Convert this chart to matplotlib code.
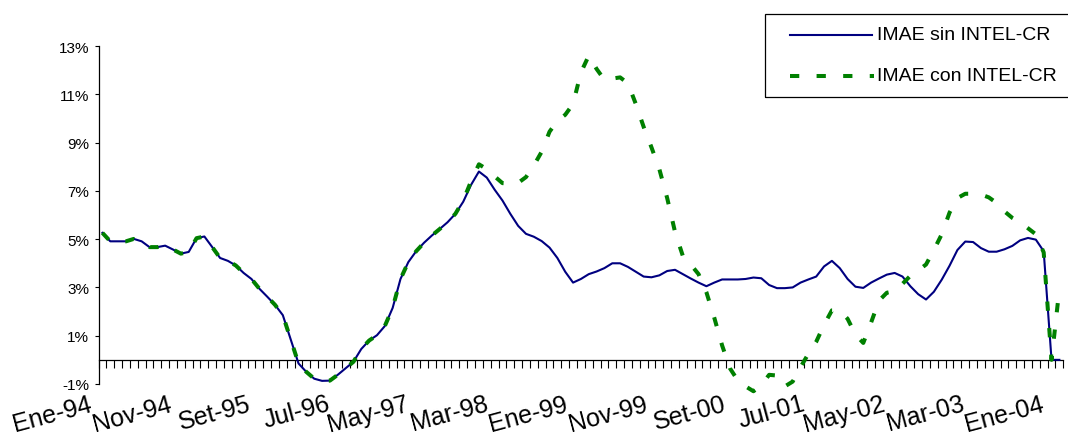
import numpy as np
import matplotlib
matplotlib.use("Agg")
import matplotlib.pyplot as plt
from matplotlib.lines import Line2D
from matplotlib.patches import Rectangle

plt.rcParams['font.family'] = ['Liberation Sans', 'DejaVu Sans']

# ---------------- data ----------------
tick_labels = ["Ene-94", "Nov-94", "Set-95", "Jul-96", "May-97", "Mar-98", "Ene-99",
               "Nov-99", "Set-00", "Jul-01", "May-02", "Mar-03", "Ene-04"]
label_step = 10  # months between labels

series_names = ["IMAE sin INTEL-CR", "IMAE con INTEL-CR"]

sin_intel = [
    5.26, 4.91, 4.91, 4.91, 5.01, 4.91, 4.67, 4.67, 4.73, 4.57,
    4.40, 4.47, 5.04, 5.11, 4.67, 4.22, 4.10, 3.91, 3.60, 3.35,
    2.95, 2.62, 2.28, 1.85, 0.85, -0.15, -0.50, -0.78, -0.87, -0.86,
    -0.62, -0.35, -0.08, 0.45, 0.80, 1.02, 1.40, 2.15, 3.35, 4.05,
    4.50, 4.85, 5.15, 5.42, 5.70, 6.05, 6.55, 7.25, 7.80, 7.55,
    7.05, 6.60, 6.05, 5.55, 5.22, 5.10, 4.92, 4.65, 4.22, 3.65,
    3.20, 3.35, 3.55, 3.66, 3.80, 4.00, 4.00, 3.85, 3.65, 3.45,
    3.42, 3.50, 3.68, 3.73, 3.55, 3.37, 3.20, 3.05, 3.20, 3.33,
    3.33, 3.33, 3.35, 3.41, 3.38, 3.10, 2.97, 2.97, 3.00, 3.20,
    3.33, 3.45, 3.87, 4.10, 3.80, 3.35, 3.03, 2.98, 3.20, 3.37,
    3.53, 3.60, 3.45, 3.05, 2.72, 2.50, 2.82, 3.32, 3.90, 4.55,
    4.90, 4.88, 4.63, 4.48, 4.48, 4.58, 4.72, 4.95, 5.05, 4.98,
    4.50, 0.00, 0.00,
]

con_intel = [
    5.26, 4.91, 4.91, 4.91, 5.01, 4.91, 4.67, 4.67, 4.73, 4.57,
    4.40, 4.47, 5.04, 5.11, 4.67, 4.22, 4.10, 3.91, 3.60, 3.35,
    2.95, 2.62, 2.28, 1.85, 0.85, -0.15, -0.50, -0.78, -0.87, -0.86,
    -0.62, -0.35, -0.08, 0.45, 0.80, 1.02, 1.40, 2.15, 3.35, 4.05,
    4.50, 4.85, 5.15, 5.42, 5.70, 6.05, 6.60, 7.40, 8.10, 7.90,
    7.60, 7.32, 7.30, 7.33, 7.57, 8.05, 8.62, 9.45, 9.90, 10.15,
    10.60, 11.90, 12.60, 12.05, 11.60, 11.65, 11.70, 11.45, 10.60, 9.65,
    8.80, 7.90, 6.70, 5.30, 4.30, 3.95, 3.55, 2.80, 1.75, 0.60,
    -0.35, -0.85, -1.10, -1.30, -1.05, -0.62, -0.65, -1.10, -0.90, -0.30,
    0.25, 0.75, 1.45, 2.05, 2.05, 1.70, 1.05, 0.70, 1.55, 2.45,
    2.78, 2.85, 3.15, 3.48, 3.70, 3.95, 4.55, 5.20, 6.10, 6.70,
    6.88, 6.88, 6.85, 6.73, 6.50, 6.15, 5.88, 5.70, 5.45, 5.20,
    4.45, 0.00, 2.95,
]

yticks = [-1, 1, 3, 5, 7, 9, 11, 13]

# ---------------- figure ----------------
W, H = 1068, 439
fig = plt.figure(figsize=(W / 100, H / 100), dpi=100)
L, R, T, B = 98.5, 1063.3, 47.0, 385.0
ax = fig.add_axes([L / W, 1 - B / H, (R - L) / W, (B - T) / H])

n = len(sin_intel)
x = np.arange(n)
ax.plot(x, sin_intel, color='#000080', lw=1.5, clip_on=False, zorder=3,
        solid_joinstyle='round')
ax.plot(x, con_intel, color='#008000', lw=2.9, ls=(0, (2.3, 4.3)),
        dash_capstyle='butt', clip_on=False, zorder=4)

ax.set_xlim(-0.5, n - 0.5)
ax.set_ylim(-1, 13)

for s in ('top', 'right'):
    ax.spines[s].set_visible(False)
ax.spines['bottom'].set_position(('data', 0))
ax.spines['bottom'].set_linewidth(0.9)
ax.spines['left'].set_linewidth(0.9)

ax.set_yticks(yticks)
ax.set_yticklabels([f"{v}%" for v in yticks])
ax.tick_params(axis='y', direction='out', length=3.2, width=0.8, pad=3.4,
               labelsize=11, colors='black')

ax.set_xticks([])
ax.set_xticks(np.arange(n + 1) - 0.5, minor=True)
ax.tick_params(axis='x', which='minor', direction='out', length=5.8, width=0.8,
               labelbottom=False)

xt = ax.get_xaxis_transform()
for k, lab in enumerate(tick_labels):
    pos = k * label_step
    ax.text(pos - 1.8 + k * 0.11, -0.022, lab, transform=xt, ha='right', va='top',
            rotation=15, rotation_mode='anchor', fontsize=18, clip_on=False)

# ---------------- legend ----------------
def fx(px):
    return px / W

def fy(py):
    return 1 - py / H

fig.add_artist(Rectangle((fx(765), fy(98.3)), fx(1080) - fx(765), fy(15) - fy(98.3),
                         transform=fig.transFigure, fill=False, edgecolor='black',
                         lw=0.9, clip_on=False))
fig.add_artist(Line2D([fx(790), fx(872)], [fy(36), fy(36)], transform=fig.transFigure,
                      color='#000080', lw=1.5))
fig.add_artist(Line2D([fx(790), fx(874)], [fy(77), fy(77)], transform=fig.transFigure,
                      color='#008000', lw=2.9, ls=(0, (2.3, 4.3)), dash_capstyle='butt'))
fig.text(fx(877), fy(36), series_names[0], ha='left', va='center', fontsize=14)
fig.text(fx(877), fy(77), series_names[1], ha='left', va='center', fontsize=14)

fig.savefig("out.png", dpi=100)
